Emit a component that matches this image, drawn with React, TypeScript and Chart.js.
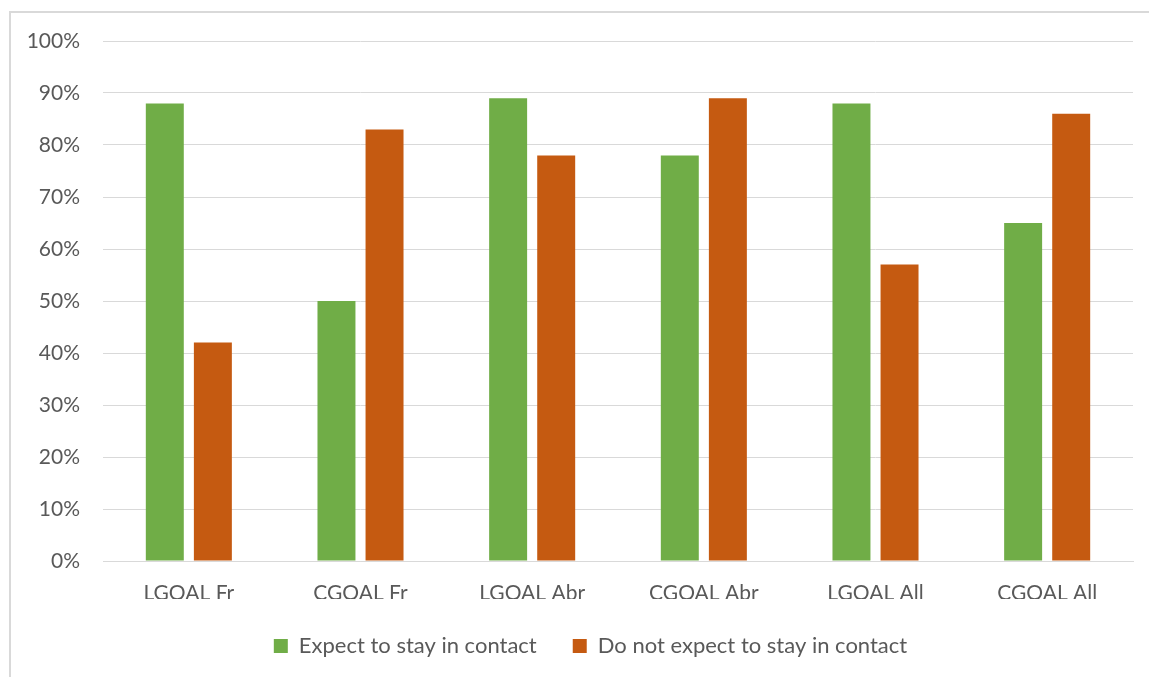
import React, { useEffect, useRef } from "react";
import { Chart, registerables } from "chart.js";

Chart.register(...registerables);

const categories = ["LGOAL Fr", "CGOAL Fr", "LGOAL Abr", "CGOAL Abr", "LGOAL All", "CGOAL All"];
const expectValues = [88, 50, 89, 78, 88, 65];
const notExpectValues = [42, 83, 78, 89, 57, 86];
const seriesNames = ["Expect to stay in contact", "Do not expect to stay in contact"];
const yTicks = [0, 10, 20, 30, 40, 50, 60, 70, 80, 90, 100];

const FONT = "Lato";
const TEXT = "#595959";

const shiftLegend = {
  id: "shiftLegend",
  afterLayout(chart: any) {
    const lg = chart.legend;
    if (lg) {
      lg.left += 24;
      lg.right += 24;
    }
  },
};

export default function App() {
  const ref = useRef<HTMLCanvasElement | null>(null);
  useEffect(() => {
    if (!ref.current) return;
    const chart = new Chart(ref.current, {
      type: "bar",
      data: {
        labels: categories,
        datasets: [
          { label: seriesNames[0], data: expectValues, backgroundColor: "#70AD47", categoryPercentage: 0.56, barPercentage: 0.79 },
          { label: seriesNames[1], data: notExpectValues, backgroundColor: "#C55A11", categoryPercentage: 0.56, barPercentage: 0.79 },
        ],
      },
      plugins: [shiftLegend],
      options: {
        animation: false,
        responsive: false,
        layout: { padding: { top: 41, right: 16, bottom: 10, left: 0 } },
        plugins: {
          tooltip: { enabled: false },
          legend: {
            position: "bottom",
            labels: { color: TEXT, font: { family: FONT, size: 22 }, boxWidth: 14, boxHeight: 14, padding: 36 },
          },
        },
        scales: {
          x: {
            grid: { display: false, drawTicks: false },
            border: { display: true, color: "#d9d9d9", width: 1 },
            ticks: { color: TEXT, font: { family: FONT, size: 21 }, padding: 20 },
            afterFit: (s: any) => { s.height = 38; },
          },
          y: {
            min: 0,
            max: 100,
            afterBuildTicks: (s: any) => { s.ticks = yTicks.map((v) => ({ value: v })); },
            grid: { color: "#d9d9d9", lineWidth: 1, drawTicks: false },
            border: { display: false },
            ticks: { color: TEXT, font: { family: FONT, size: 21 }, padding: 23, callback: (v: any) => v + "%" },
            afterFit: (s: any) => { s.width = 103; },
          },
        },
      },
    });
    return () => chart.destroy();
  }, []);
  return (
    <div style={{ position: "fixed", left: 0, top: 0, width: 1149, height: 677, background: "#fff", overflow: "hidden" }}>
      <div style={{ position: "absolute", left: 9, top: 11, width: 1200, height: 700, border: "2px solid #d9d9d9", boxSizing: "border-box" }} />
      <canvas ref={ref} width={1149} height={677} style={{ position: "absolute", left: 0, top: 0 }} />
    </div>
  );
}
